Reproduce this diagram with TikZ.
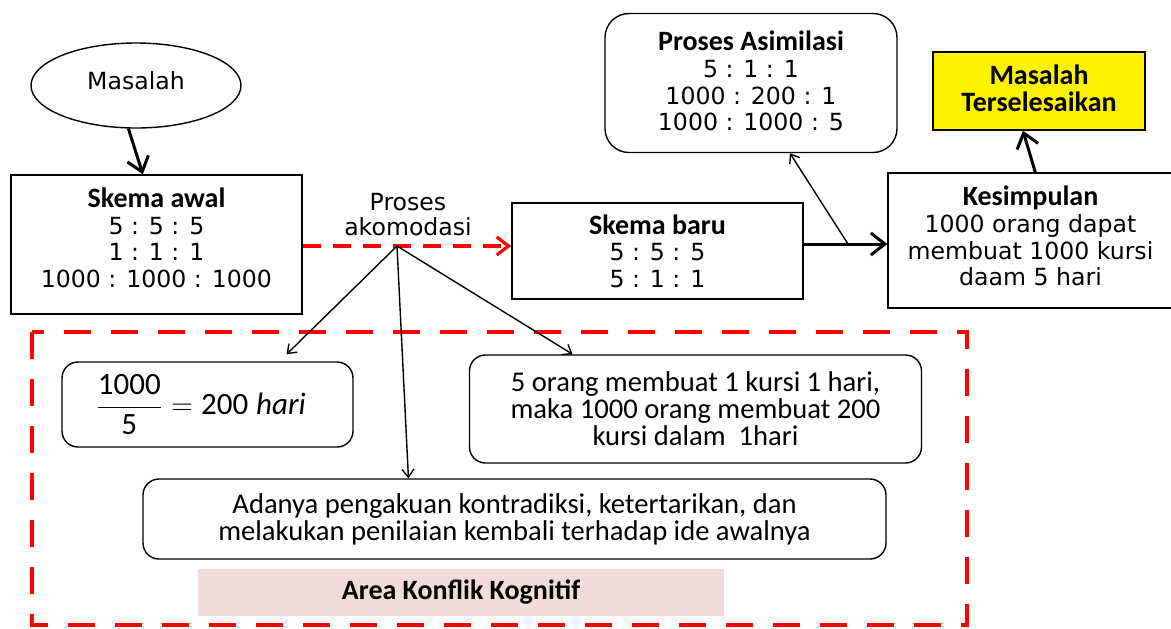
\documentclass[tikz,border=0pt]{standalone}
\usepackage{fontspec}
\usepackage{amsmath}
\setmainfont{DejaVu Sans}
\newfontfamily\calibri{Carlito}
\usetikzlibrary{shapes.geometric,arrows.meta}
\definecolor{konflik}{HTML}{F2DCDB}
\begin{document}
\begin{tikzpicture}[x=0.5pt,y=-0.5pt]
\def\lw{0.7pt}
\def\lwb{1.5pt}
\def\ttl#1{{\calibri\bfseries\fontsize{14}{13.3}\selectfont #1}}
\tikzset{
base/.style={draw,line width=\lw,align=center,inner sep=2pt,font=\fontsize{11.8}{13.3}\selectfont},
kotak/.style={base,rectangle},
bulat/.style={base,rounded corners=8pt,font=\calibri\fontsize{14.3}{13.5}\selectfont},
judul/.style={font=\calibri\bfseries\fontsize{14}{13.5}\selectfont},
every path/.style={>={Straight Barb[length=4pt,width=6pt]}},
panah/.style={line width=\lwb,->,>={Straight Barb[length=7pt,width=11pt]}},
garis/.style={line width=\lw,->},
akomodasi/.style={red,line width=1.6pt,dash pattern=on 9pt off 6pt,->,>={Straight Barb[length=6pt,width=9pt]}}}
\useasboundingbox (0,0) rectangle (1171,628);
\draw[red,line width=2pt,dash pattern=on 13.5pt off 10pt] (32,332) rectangle (967,625);
\node[base,ellipse,minimum width=105pt,minimum height=42.5pt,text depth=5pt] at (136,85.5) (M) {Masalah};
\node[kotak,minimum width=145.5pt,minimum height=69.5pt,text depth=7pt] at (156.5,244.5) (SA) {\ttl{Skema awal}\\5 : 5 : 5\\1 : 1 : 1\\1000 : 1000 : 1000};
\node[align=center,inner sep=0pt,font=\fontsize{11.8}{12.5}\selectfont] at (408,214.5) (PK) {Proses\\akomodasi};
\node[kotak,minimum width=145.5pt,minimum height=48pt] at (657.5,251) (SB) {\ttl{Skema baru}\\5 : 5 : 5\\5 : 1 : 1};
\node[base,rounded corners=12pt,minimum width=146pt,minimum height=69.5pt,text depth=2pt] at (751,83) (AS) {\ttl{Proses Asimilasi}\\5 : 1 : 1\\1000 : 200 : 1\\1000 : 1000 : 5};
\node[kotak,judul,fill=yellow,minimum width=106pt,minimum height=39pt,text depth=3pt] at (1039,91) (MT) {Masalah\\Terselesaikan};
\node[kotak,minimum width=142.5pt,minimum height=67.5pt,text depth=4.5pt] at (1030.5,240.5) (K) {\ttl{Kesimpulan}\\1000 orang dapat\\membuat 1000 kursi\\daam 5 hari};
\node[bulat,font=\calibri\fontsize{15.5}{14}\selectfont,minimum width=145.5pt,minimum height=42.5pt,text width=112pt,align=left] at (207.5,404.5) (F) {$\dfrac{\text{1000}}{\text{5}}=\text{200}\;\textit{hari}$};
\node[bulat,minimum width=226pt,minimum height=54pt] at (695.5,409) (R) {5 orang membuat 1 kursi 1 hari,\\maka 1000 orang membuat 200\\kursi dalam\ \ 1hari};
\node[bulat,minimum width=371.5pt,minimum height=40pt] at (514.5,519) (A) {Adanya pengakuan kontradiksi, ketertarikan, dan\\melakukan penilaian kembali terhadap ide awalnya};
\node[judul,fill=konflik,minimum width=263pt,minimum height=23.5pt] at (461,592.5) (AK) {Area Konflik Kognitif};
\coordinate (B) at (397,246);
\coordinate (J) at (848,244);
\draw[panah] (M.-100) -- (SA.101);
\draw[akomodasi] (SA.east|-B) -- (SB.west|-B);
\draw[garis,shorten >=5pt] (B) -- (F.31);
\draw[garis] (B) -- (A.159);
\draw[garis] (B) -- (R.156);
\draw[panah] (SB.east|-J) -- (K.west|-J);
\draw[garis] (J) -- (AS.-61);
\draw[panah] (K.86) -- (MT.-112);
\end{tikzpicture}
\end{document}
